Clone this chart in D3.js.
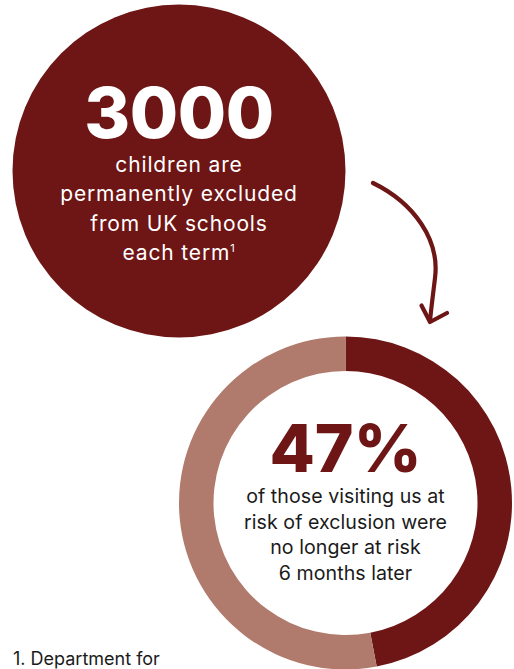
<!DOCTYPE html>
<html>
<head>
<meta charset="utf-8">
<script src="https://cdn.jsdelivr.net/npm/d3@7"></script>
<style>
  html, body { margin: 0; padding: 0; background: #fff; }
  svg { display: block; }
  text { font-family: Inter, "Noto Sans", sans-serif; }
</style>
</head>
<body>
<div id="chart"></div>
<script>
// Headline figure
const headlineValue = 3000;
const headlineLines = ["children are", "permanently excluded", "from UK schools", "each term"];

// Outcome split (percent of visitors at risk of exclusion)
const outcomeLabels = ["No longer at risk", "Still at risk"];
const outcomeValues = [47, 53];
const outcomeLines = ["of those visiting us at", "risk of exclusion were", "no longer at risk", "6 months later"];

const footnote = "1. Department for";

const W = 514, H = 669;
const darkRed = "#6e1515";
const lightRed = "#b07a6c";
const ink = "#1b1b1b";

const svg = d3.select("#chart").append("svg")
  .attr("width", W).attr("height", H);

// ---- Headline disc ----
const disc = svg.append("g").attr("transform", "translate(179,171)");
disc.append("circle").attr("r", 166.5).attr("fill", darkRed);
disc.append("text")
  .attr("text-anchor", "middle")
  .attr("y", -33)
  .attr("fill", "#fff")
  .attr("font-size", 70)
  .attr("font-weight", 800)
  .attr("letter-spacing", -0.5)
  .text(d3.format("d")(headlineValue));

const sub = disc.append("text")
  .attr("text-anchor", "middle")
  .attr("fill", "#fff")
  .attr("font-size", 21)
  .attr("font-weight", 400)
  .attr("letter-spacing", 0.85);
headlineLines.forEach((line, i) => {
  sub.append("tspan").attr("x", 0).attr("y", 1 + i * 29.3).text(line);
  if (i === headlineLines.length - 1) {
    sub.append("tspan").attr("dy", -8).attr("font-size", 11).text("1");
  }
});

// ---- Curved arrow between the two figures ----
const arrow = svg.append("g")
  .attr("fill", "none")
  .attr("stroke", darkRed)
  .attr("stroke-width", 4.2)
  .attr("stroke-linecap", "round")
  .attr("stroke-linejoin", "round");
arrow.append("path").attr("d", "M373,183 C414,203 440,240 435,278 C433,295 431,310 430,321");
arrow.append("path").attr("d", "M421.5,305.5 L430,322 L447,313");

// ---- Outcome donut ----
const donut = svg.append("g").attr("transform", "translate(345.5,503)");
const pie = d3.pie().sort(null).value(d => d)(outcomeValues);
const arc = d3.arc().innerRadius(132).outerRadius(166.5);
const colour = d3.scaleOrdinal().domain(outcomeLabels).range([darkRed, lightRed]);
donut.selectAll("path.slice")
  .data(pie)
  .join("path")
  .attr("class", "slice")
  .attr("d", arc)
  .attr("fill", (d, i) => colour(outcomeLabels[i]));

donut.append("text")
  .attr("text-anchor", "middle")
  .attr("y", -31)
  .attr("fill", darkRed)
  .attr("font-size", 66)
  .attr("font-weight", 800)
  .text(outcomeValues[0] + "%");

const sub2 = donut.append("text")
  .attr("text-anchor", "middle")
  .attr("fill", ink)
  .attr("font-size", 19.6)
  .attr("letter-spacing", 0.05);
outcomeLines.forEach((line, i) => {
  sub2.append("tspan").attr("x", 0).attr("y", 0 + i * 25.5).text(line);
});

// ---- Footnote ----
svg.append("text")
  .attr("x", 13).attr("y", 665)
  .attr("fill", ink)
  .attr("font-size", 18)
  .text(footnote);
</script>
</body>
</html>
